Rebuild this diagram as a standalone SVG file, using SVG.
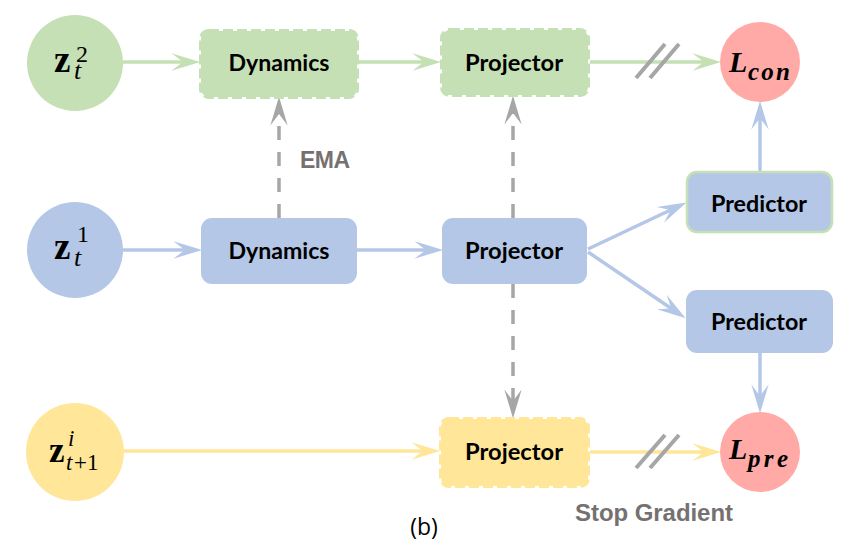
<svg xmlns="http://www.w3.org/2000/svg" width="850" height="549" viewBox="0 0 850 549">
<style>
.lbl{font-family:Lato,"Open Sans","Liberation Sans",sans-serif;font-weight:700;font-size:22px;fill:#000;text-anchor:middle}
.math{font-family:"Liberation Serif","DejaVu Serif",serif;fill:#000}
.gtxt{font-family:"Liberation Sans",Arial,sans-serif;font-weight:700;fill:#757171}
.green{stroke:#c5e0b4}
.blue{stroke:#b4c7e7}
.yellow{stroke:#ffe699}
.gray{stroke:#a6a6a6}
.conn line{stroke-width:3.5;fill:none}
.dash{stroke-dasharray:14 12;stroke-width:4}
.dbox{stroke-width:4;stroke-dasharray:10 4}
</style>
<defs>
<marker id="ag" markerUnits="userSpaceOnUse" markerWidth="30" markerHeight="20" viewBox="0 0 26 16" refX="17" refY="8" orient="auto"><path d="M25,8 L0,0.5 L10,8 L0,15.5 Z" fill="#c5e0b4"/></marker>
<marker id="ab" markerUnits="userSpaceOnUse" markerWidth="30" markerHeight="20" viewBox="0 0 26 16" refX="17" refY="8" orient="auto"><path d="M25,8 L0,0.5 L10,8 L0,15.5 Z" fill="#b4c7e7"/></marker>
<marker id="ay" markerUnits="userSpaceOnUse" markerWidth="30" markerHeight="20" viewBox="0 0 26 16" refX="17" refY="8" orient="auto"><path d="M25,8 L0,0.5 L10,8 L0,15.5 Z" fill="#ffe699"/></marker>
<marker id="ax" markerUnits="userSpaceOnUse" markerWidth="30" markerHeight="20" viewBox="0 0 26 16" refX="17" refY="8" orient="auto"><path d="M25,8 L0,0.5 L10,8 L0,15.5 Z" fill="#a6a6a6"/></marker>
</defs>
<rect width="850" height="549" fill="#fff"/>

<g id="connectors" class="conn">
<line class="green" x1="123" y1="62" x2="191" y2="62" marker-end="url(#ag)"/>
<line class="green" x1="359" y1="62" x2="432" y2="62" marker-end="url(#ag)"/>
<line class="green" x1="590" y1="62" x2="712" y2="62" marker-end="url(#ag)"/>
<line class="blue" x1="123" y1="250" x2="193" y2="250" marker-end="url(#ab)"/>
<line class="blue" x1="357" y1="250" x2="434" y2="250" marker-end="url(#ab)"/>
<line class="blue" x1="588" y1="249" x2="678" y2="206.5" marker-end="url(#ab)"/>
<line class="blue" x1="588" y1="252" x2="678" y2="313" marker-end="url(#ab)"/>
<line class="blue" x1="760" y1="171" x2="760" y2="110" marker-end="url(#ab)"/>
<line class="blue" x1="760" y1="353" x2="760" y2="404" marker-end="url(#ab)"/>
<line class="yellow" x1="124" y1="451" x2="431" y2="451" marker-end="url(#ay)"/>
<line class="yellow" x1="590" y1="452" x2="712" y2="452" marker-end="url(#ay)"/>
<line class="gray dash" x1="279" y1="218" x2="279" y2="106" marker-end="url(#ax)"/>
<line class="gray dash" x1="513" y1="218" x2="513" y2="105" marker-end="url(#ax)"/>
<line class="gray dash" x1="513" y1="284" x2="513" y2="409" marker-end="url(#ax)"/>
<line class="gray" x1="636" y1="78" x2="665" y2="44" style="stroke-width:4"/>
<line class="gray" x1="650" y1="78" x2="679" y2="44" style="stroke-width:4"/>
<line class="gray" x1="636" y1="468" x2="665" y2="435" style="stroke-width:4"/>
<line class="gray" x1="650" y1="468" x2="679" y2="435" style="stroke-width:4"/>
</g>

<g id="z2">
<circle cx="75" cy="63" r="48" fill="#c5e0b4"/>
<text class="math"><tspan x="54" y="72" font-size="37" font-weight="700">z</tspan><tspan x="74" y="79" font-size="26" font-style="italic">t</tspan></text>
<text class="math" x="76" y="62" font-size="24">2</text>
</g>
<g id="z1">
<circle cx="75" cy="250" r="48" fill="#b4c7e7"/>
<text class="math"><tspan x="54" y="259" font-size="37" font-weight="700">z</tspan><tspan x="74" y="266" font-size="26" font-style="italic">t</tspan></text>
<text class="math" x="77" y="242" font-size="24">1</text>
</g>
<g id="zi">
<circle cx="75" cy="452" r="49" fill="#ffe699"/>
<text class="math"><tspan x="49" y="462" font-size="35" font-weight="700">z</tspan><tspan x="66" y="470" font-size="23" font-style="italic">t</tspan><tspan x="74" y="470" font-size="23">+1</tspan></text>
<text class="math" x="68" y="446" font-size="23" font-style="italic">i</text>
</g>

<g id="dyn-target">
<rect x="201" y="31" width="156" height="66" rx="8" fill="#c5e0b4" class="green dbox"/>
<text class="lbl" x="279" y="71" textLength="101" lengthAdjust="spacingAndGlyphs">Dynamics</text>
</g>
<g id="proj-target">
<rect x="442" y="30" width="146" height="65" rx="8" fill="#c5e0b4" class="green dbox"/>
<text class="lbl" x="514" y="71" textLength="98" lengthAdjust="spacingAndGlyphs">Projector</text>
</g>
<g id="lcon">
<circle cx="760" cy="62" r="40" fill="#ffaaa6"/>
<text class="math" font-weight="700" font-style="italic"><tspan x="729" y="72" font-size="30">L</tspan><tspan x="748" y="80" font-size="25" textLength="42">con</tspan></text>
</g>

<g id="dyn-online">
<rect x="201" y="218" width="156" height="66" rx="11" fill="#b4c7e7"/>
<text class="lbl" x="279" y="259" textLength="101" lengthAdjust="spacingAndGlyphs">Dynamics</text>
</g>
<g id="proj-online">
<rect x="442" y="218" width="145" height="66" rx="11" fill="#b4c7e7"/>
<text class="lbl" x="514" y="259" textLength="98" lengthAdjust="spacingAndGlyphs">Projector</text>
</g>
<g id="pred-top">
<rect x="687" y="172" width="145" height="60" rx="10" fill="#b4c7e7" stroke="#c5e0b4" stroke-width="2.5"/>
<text class="lbl" x="759" y="212" textLength="96" lengthAdjust="spacingAndGlyphs">Predictor</text>
</g>
<g id="pred-bottom">
<rect x="686" y="290" width="147" height="63" rx="11" fill="#b4c7e7"/>
<text class="lbl" x="759" y="330" textLength="96" lengthAdjust="spacingAndGlyphs">Predictor</text>
</g>

<g id="proj-yellow">
<rect x="441" y="419" width="147" height="67" rx="8" fill="#ffe699" class="yellow dbox"/>
<text class="lbl" x="514" y="460" textLength="98" lengthAdjust="spacingAndGlyphs">Projector</text>
</g>
<g id="lpre">
<circle cx="760" cy="452" r="40" fill="#ffaaa6"/>
<text class="math" font-weight="700" font-style="italic"><tspan x="729" y="459" font-size="30">L</tspan><tspan x="748" y="467" font-size="25" textLength="40">pre</tspan></text>
</g>

<text class="gtxt" x="300" y="168" font-size="23" textLength="50">EMA</text>
<text class="gtxt" x="654" y="521" font-size="24" text-anchor="middle" textLength="158">Stop Gradient</text>
<text x="424" y="535" font-family="'Open Sans','Liberation Sans',sans-serif" font-size="23" text-anchor="middle" fill="#000">(b)</text>
</svg>
